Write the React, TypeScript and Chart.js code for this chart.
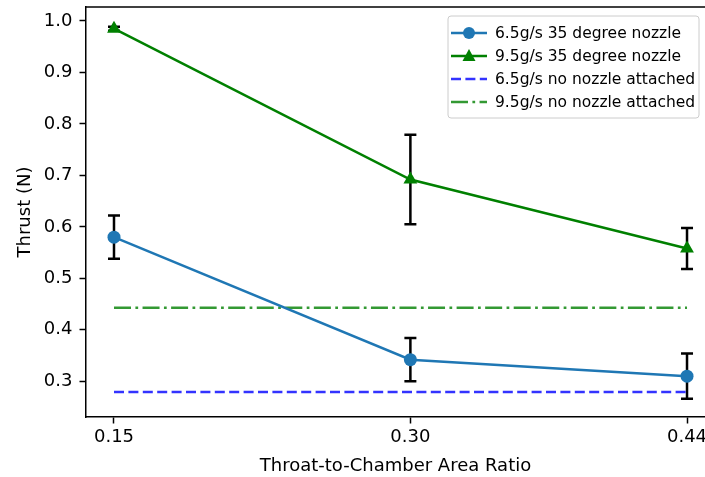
import React, { useEffect, useRef } from 'react';
import { Chart, registerables } from 'chart.js';

Chart.register(...registerables);

// ---- data ----
const areaRatios = [0.15, 0.3, 0.44];
const xTickValues = [0.15, 0.3, 0.44];
const yTickValues = [0.3, 0.4, 0.5, 0.6, 0.7, 0.8, 0.9, 1.0];
const thrust65 = [0.58, 0.342, 0.31];
const err65 = [0.042, 0.042, 0.044];
const thrust95 = [0.985, 0.692, 0.558];
const err95 = [0.004, 0.087, 0.04];
const baselineX = [0.15, 0.44];
const baseline65 = [0.279, 0.279];
const baseline95 = [0.443, 0.443];
const seriesLabels = [
  '6.5g/s 35 degree nozzle',
  '9.5g/s 35 degree nozzle',
  '6.5g/s no nozzle attached',
  '9.5g/s no nozzle attached',
];
const xTitle = 'Throat-to-Chamber Area Ratio';
const yTitle = 'Thrust (N)';

// ---- styles ----
const FONT = 'DejaVu Sans';
const C_BLUE = '#1f77b4';
const C_GREEN = '#008000';
const C_DASH_BLUE = 'rgba(0,0,255,0.8)';
const C_DASH_GREEN = 'rgba(0,128,0,0.8)';
const LW = 2.5;
const DASHED = [10, 4.4];
const DASHDOT = [17, 4.4, 2.75, 4.4];

const errorBarPlugin = {
  id: 'errorBars',
  beforeDatasetsDraw(chart: any) {
    const { ctx, scales } = chart;
    const x = scales.x;
    const y = scales.y;
    ctx.save();
    ctx.strokeStyle = '#000';
    ctx.lineWidth = 2.5;
    const sets: [number[], number[]][] = [
      [thrust65, err65],
      [thrust95, err95],
    ];
    sets.forEach(([vals, errs]) => {
      areaRatios.forEach((xv, i) => {
        const px = x.getPixelForValue(xv);
        const top = y.getPixelForValue(vals[i] + errs[i]);
        const bot = y.getPixelForValue(vals[i] - errs[i]);
        ctx.beginPath();
        ctx.moveTo(px, top);
        ctx.lineTo(px, bot);
        ctx.moveTo(px - 6, top);
        ctx.lineTo(px + 6, top);
        ctx.moveTo(px - 6, bot);
        ctx.lineTo(px + 6, bot);
        ctx.stroke();
      });
    });
    ctx.restore();
  },
};

const framePlugin = {
  id: 'frameTop',
  afterDatasetsDraw(chart: any) {
    const { ctx, chartArea } = chart;
    ctx.save();
    ctx.strokeStyle = '#000';
    ctx.lineWidth = 1.5;
    ctx.beginPath();
    ctx.moveTo(chartArea.left, chartArea.top);
    ctx.lineTo(chartArea.right, chartArea.top);
    ctx.stroke();
    ctx.restore();
  },
};

const legendPlugin = {
  id: 'mplLegend',
  afterDraw(chart: any) {
    const { ctx } = chart;
    const bx = 448, by = 16, bw = 251, bh = 102;
    ctx.save();
    ctx.fillStyle = 'rgba(255,255,255,0.8)';
    ctx.strokeStyle = '#cccccc';
    ctx.lineWidth = 1;
    ctx.beginPath();
    const r = 3;
    ctx.moveTo(bx + r, by);
    ctx.lineTo(bx + bw - r, by);
    ctx.quadraticCurveTo(bx + bw, by, bx + bw, by + r);
    ctx.lineTo(bx + bw, by + bh - r);
    ctx.quadraticCurveTo(bx + bw, by + bh, bx + bw - r, by + bh);
    ctx.lineTo(bx + r, by + bh);
    ctx.quadraticCurveTo(bx, by + bh, bx, by + bh - r);
    ctx.lineTo(bx, by + r);
    ctx.quadraticCurveTo(bx, by, bx + r, by);
    ctx.closePath();
    ctx.fill();
    ctx.stroke();

    const styles = [
      { color: C_BLUE, dash: [] as number[], marker: 'circle' },
      { color: C_GREEN, dash: [] as number[], marker: 'triangle' },
      { color: C_DASH_BLUE, dash: DASHED, marker: '' },
      { color: C_DASH_GREEN, dash: DASHDOT, marker: '' },
    ];
    const x0 = 451, x1 = 487, tx = 495;
    seriesLabels.forEach((label, i) => {
      const cy = 33 + i * 23;
      const s = styles[i];
      ctx.strokeStyle = s.color;
      ctx.lineWidth = LW;
      ctx.setLineDash(s.dash);
      ctx.beginPath();
      ctx.moveTo(x0, cy);
      ctx.lineTo(x1, cy);
      ctx.stroke();
      ctx.setLineDash([]);
      const mx = (x0 + x1) / 2;
      ctx.fillStyle = s.color;
      if (s.marker === 'circle') {
        ctx.beginPath();
        ctx.arc(mx, cy, 6, 0, Math.PI * 2);
        ctx.fill();
      } else if (s.marker === 'triangle') {
        ctx.beginPath();
        ctx.moveTo(mx, cy - 7);
        ctx.lineTo(mx - 6.5, cy + 5);
        ctx.lineTo(mx + 6.5, cy + 5);
        ctx.closePath();
        ctx.fill();
      }
      ctx.fillStyle = '#000';
      ctx.font = `15.5px "${FONT}"`;
      ctx.textBaseline = 'middle';
      ctx.textAlign = 'left';
      ctx.fillText(label, tx, cy + 1);
    });
    ctx.restore();
  },
};

export default function App() {
  const canvasRef = useRef<HTMLCanvasElement | null>(null);

  useEffect(() => {
    const canvas = canvasRef.current;
    if (!canvas) return;
    const toPts = (xs: number[], ys: number[]) => xs.map((x, i) => ({ x, y: ys[i] }));
    const tickFont = { family: FONT, size: 18 };

    const chart = new Chart(canvas, {
      type: 'line',
      data: {
        datasets: [
          {
            label: seriesLabels[0],
            data: toPts(areaRatios, thrust65),
            borderColor: C_BLUE,
            backgroundColor: C_BLUE,
            borderWidth: LW,
            pointStyle: 'circle',
            pointRadius: 6.5,
            pointBorderWidth: 0,
            order: 1,
          },
          {
            label: seriesLabels[1],
            data: toPts(areaRatios, thrust95),
            borderColor: C_GREEN,
            backgroundColor: C_GREEN,
            borderWidth: LW,
            pointStyle: 'triangle',
            pointRadius: 8,
            pointBorderWidth: 0,
            order: 0,
          },
          {
            label: seriesLabels[2],
            data: toPts(baselineX, baseline65),
            borderColor: C_DASH_BLUE,
            borderWidth: LW,
            borderDash: DASHED,
            pointRadius: 0,
            order: 3,
          },
          {
            label: seriesLabels[3],
            data: toPts(baselineX, baseline95),
            borderColor: C_DASH_GREEN,
            borderWidth: LW,
            borderDash: DASHDOT,
            pointRadius: 0,
            order: 2,
          },
        ],
      },
      options: {
        animation: false,
        responsive: false,
        maintainAspectRatio: false,
        layout: { autoPadding: false, padding: { top: 7, left: 0, right: 0, bottom: 0 } },
        plugins: { legend: { display: false }, tooltip: { enabled: false } },
        elements: { line: { tension: 0 } },
        scales: {
          x: {
            type: 'linear',
            min: 0.13583,
            max: 0.4491,
            afterBuildTicks: (s: any) => {
              s.ticks = xTickValues.map((v) => ({ value: v }));
            },
            afterFit: (s: any) => {
              s.height = 60;
              s.paddingLeft = 0;
              s.paddingRight = 0;
            },
            ticks: {
              callback: (v: any) => Number(v).toFixed(2),
              font: tickFont,
              color: '#000',
              padding: 3,
              autoSkip: false,
              maxRotation: 0,
            },
            grid: {
              display: true,
              drawOnChartArea: false,
              drawTicks: true,
              tickLength: 6.5,
              tickWidth: 1.5,
              tickColor: '#000',
            },
            border: { display: true, color: '#000', width: 1.5 },
            title: {
              display: true,
              text: xTitle,
              font: tickFont,
              color: '#000',
              padding: { top: 0, bottom: 0 },
            },
          },
          y: {
            type: 'linear',
            min: 0.2306,
            max: 1.0272,
            afterBuildTicks: (s: any) => {
              s.ticks = yTickValues.map((v) => ({ value: v }));
            },
            afterFit: (s: any) => {
              s.width = 86;
              s.paddingTop = 0;
              s.paddingBottom = 0;
            },
            ticks: {
              callback: (v: any) => Number(v).toFixed(1),
              font: tickFont,
              color: '#000',
              padding: 7,
              autoSkip: false,
            },
            grid: {
              display: true,
              drawOnChartArea: false,
              drawTicks: true,
              tickLength: 6.5,
              tickWidth: 1.5,
              tickColor: '#000',
            },
            border: { display: true, color: '#000', width: 1.5 },
            title: {
              display: true,
              text: yTitle,
              font: tickFont,
              color: '#000',
              padding: { top: 15, bottom: 0 },
            },
          },
        },
      },
      plugins: [errorBarPlugin, framePlugin, legendPlugin],
    } as any);

    return () => chart.destroy();
  }, []);

  return (
    <div style={{ position: 'fixed', left: 0, top: 0, width: 705, height: 477, background: '#fff' }}>
      <canvas ref={canvasRef} width={705} height={477} style={{ width: 705, height: 477, display: 'block' }} />
    </div>
  );
}
